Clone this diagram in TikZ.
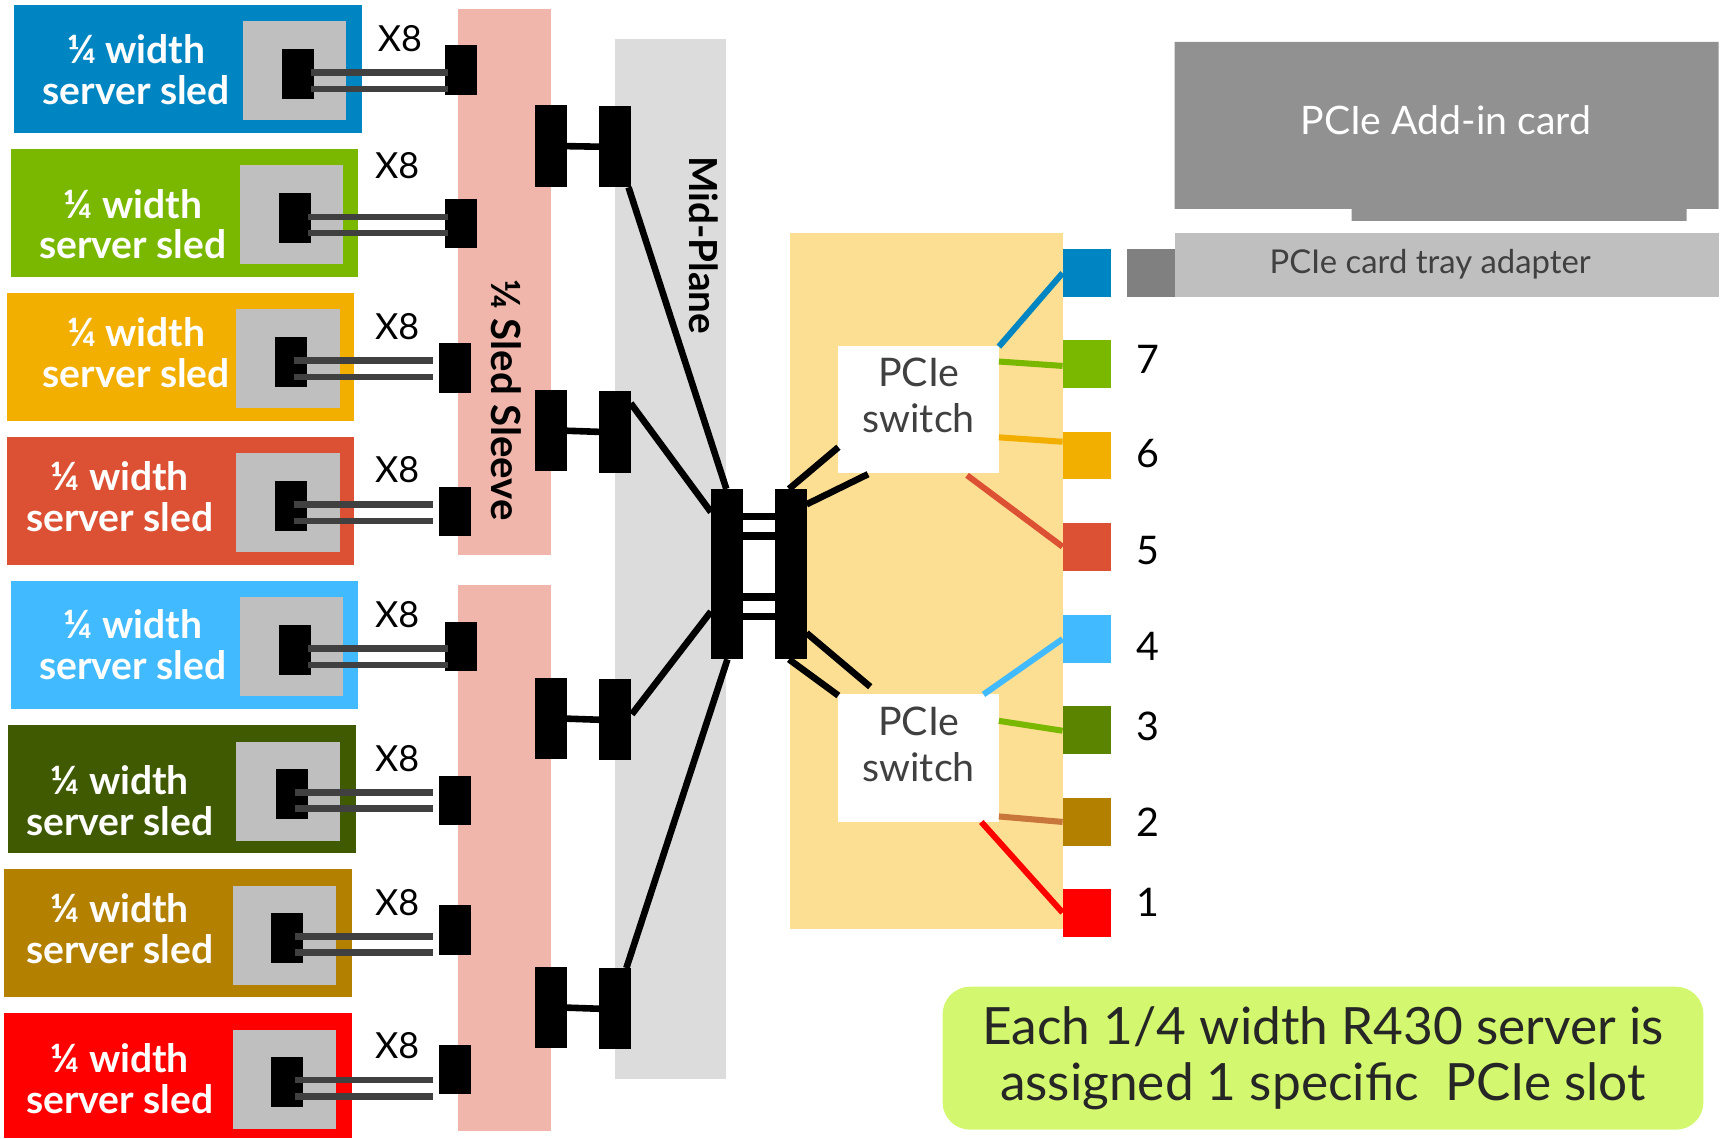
\documentclass[tikz,border=0pt]{standalone}
\usepackage{fontspec}
\setmainfont{Lato}
\definecolor{dblue}{HTML}{0085C3}
\definecolor{dgreen}{HTML}{7AB800}
\definecolor{damber}{HTML}{F2AF00}
\definecolor{dorange}{HTML}{DC5034}
\definecolor{dsky}{HTML}{42BAFF}
\definecolor{dolive}{HTML}{3F5A00}
\definecolor{dmoss}{HTML}{5B8500}
\definecolor{dbrown}{HTML}{B38000}
\definecolor{dcopper}{HTML}{C8763A}
\definecolor{dsleeve}{HTML}{F1B6AB}
\definecolor{dmid}{HTML}{DCDCDC}
\definecolor{dyellow}{HTML}{FDDF94}
\definecolor{dnote}{HTML}{D3F76E}
\definecolor{dtext}{HTML}{404040}
\tikzset{
  every node/.append style={outer sep=0pt},
  sled/.style={rectangle,inner sep=0pt,minimum width=3.16cm,minimum height=1.16cm},
  tray/.style={rectangle,inner sep=0pt,fill=black!25,minimum width=0.94cm,minimum height=0.9cm},
  plug/.style={rectangle,inner sep=0pt,fill=black,minimum width=0.29cm,minimum height=0.45cm},
  tallplug/.style={rectangle,inner sep=0pt,fill=black,minimum width=0.29cm,minimum height=0.74cm},
  port/.style={rectangle,inner sep=0pt,minimum width=0.44cm,minimum height=0.435cm},
  pswitch/.style={rectangle,inner sep=0pt,fill=white,minimum width=1.46cm,minimum height=1.16cm},
  sledtext/.style={align=center,text=white,font=\fontsize{10.1pt}{10.6pt}\selectfont\bfseries},
  xlabel/.style={font=\fontsize{9.3pt}{11pt}\selectfont,text=black},
  portnum/.style={font=\fontsize{10.2pt}{11pt}\selectfont,text=black},
  switchtext/.style={align=center,text=dtext,font=\fontsize{10.2pt}{11.9pt}\selectfont},
  cable/.style={draw=dtext,line width=0.06cm},
  lane/.style={draw=black,line width=0.06cm},
  wire/.style={line width=0.055cm}
}
\begin{document}
\begin{tikzpicture}[x=0.01cm,y=-0.01cm]
\useasboundingbox (0,0) rectangle (1568,1036);

\node[rectangle,fill=dsleeve,inner sep=0pt,minimum width=0.84cm,minimum height=4.97cm] (sleeveA) at (459,256.5) {};
\node[rectangle,fill=dsleeve,inner sep=0pt,minimum width=0.84cm,minimum height=4.97cm] (sleeveB) at (459,781) {};
\node[rectangle,fill=dmid,inner sep=0pt,minimum width=1.01cm,minimum height=9.46cm] (midplane) at (610.5,509) {};
\node[rectangle,fill=dyellow,inner sep=0pt,minimum width=2.48cm,minimum height=6.33cm] (board) at (843,528.5) {};
\node[font=\fontsize{10.4pt}{11pt}\selectfont\bfseries,rotate=-90,text=black] (sleevetext) at (461,364) {¼ Sled Sleeve};
\node[font=\fontsize{10pt}{11pt}\selectfont\bfseries,rotate=-90,text=black] (midtext) at (640,223) {Mid-Plane};

\node[sled,fill=dblue] (sled1) at (171,63) {};
\node[tray] at (268,64) {};
\node[plug] (s1) at (271.5,67.5) {};
\node[sledtext] (t1) at (124,63) {¼ width\\server sled};
\node[xlabel] (x1) at (364,35) {X8};
\node[plug] (c1) at (419.5,63.5) {};

\node[sled,fill=dgreen] (sled2) at (168,194) {};
\node[tray] at (265,195) {};
\node[plug] (s2) at (268.5,198.5) {};
\node[sledtext] (t2) at (121,204) {¼ width\\server sled};
\node[xlabel] (x2) at (361.5,151) {X8};
\node[plug] (c2) at (419.5,203.5) {};

\node[sled,fill=damber] (sled3) at (164.5,325) {};
\node[tray] at (262,326) {};
\node[plug] (s3) at (265,329.5) {};
\node[sledtext] (t3) at (124,321) {¼ width\\server sled};
\node[xlabel] (x3) at (361.5,297) {X8};
\node[plug] (c3) at (414,335) {};

\node[sled,fill=dorange] (sled4) at (164.5,456) {};
\node[tray] at (262,457) {};
\node[plug] (s4) at (265,460.5) {};
\node[sledtext] (t4) at (109,452) {¼ width\\server sled};
\node[xlabel] (x4) at (361.5,427) {X8};
\node[plug] (c4) at (414,465.5) {};

\node[sled,fill=dsky] (sled5) at (168,587) {};
\node[tray] at (265,588) {};
\node[plug] (s5) at (268.5,591.5) {};
\node[sledtext] (t5) at (121,587) {¼ width\\server sled};
\node[xlabel] (x5) at (361.5,559) {X8};
\node[plug] (c5) at (419.5,588.5) {};

\node[sled,fill=dolive] (sled6) at (165.5,718) {};
\node[tray] at (262,720) {};
\node[plug] (s6) at (265.5,722.5) {};
\node[sledtext] (t6) at (109,729) {¼ width\\server sled};
\node[xlabel] (x6) at (361.5,690) {X8};
\node[plug] (c6) at (414,728.5) {};

\node[sled,fill=dbrown] (sled7) at (162,849) {};
\node[tray] at (259,851) {};
\node[plug] (s7) at (261.5,853.5) {};
\node[sledtext] (t7) at (109,845) {¼ width\\server sled};
\node[xlabel] (x7) at (361.5,821) {X8};
\node[plug] (c7) at (414,846.5) {};

\node[sled,fill=red,minimum height=1.14cm] (sled8) at (162,979) {};
\node[tray] at (259,982) {};
\node[plug] (s8) at (261.5,984.5) {};
\node[sledtext] (t8) at (109,982) {¼ width\\server sled};
\node[xlabel] (x8) at (361.5,952) {X8};
\node[plug] (c8) at (414,973.5) {};

\draw[cable] ([shift={(-3,-1.5)}]s1.east) -- ([shift={(3,2.5)}]c1.west);
\draw[cable] ([shift={(-3,13.5)}]s1.east) -- ([shift={(3,17.5)}]c1.west);
\draw[cable] ([shift={(-3,-1)}]s2.east) -- ([shift={(3,-6)}]c2.west);
\draw[cable] ([shift={(-3,13.5)}]s2.east) -- ([shift={(3,8.5)}]c2.west);
\draw[cable] ([shift={(-12,-1.5)}]s3.east) -- ([shift={(-5,-7)}]c3.west);
\draw[cable] ([shift={(-12,13.5)}]s3.east) -- ([shift={(-5,8)}]c3.west);
\draw[cable] ([shift={(-12,-1.5)}]s4.east) -- ([shift={(-5,-6.5)}]c4.west);
\draw[cable] ([shift={(-12,13.5)}]s4.east) -- ([shift={(-5,8.5)}]c4.west);
\draw[cable] ([shift={(-3,-1.5)}]s5.east) -- ([shift={(3,1.5)}]c5.west);
\draw[cable] ([shift={(-3,13.5)}]s5.east) -- ([shift={(3,16.5)}]c5.west);
\draw[cable] ([shift={(-12,-1.5)}]s6.east) -- ([shift={(-5,-7.5)}]c6.west);
\draw[cable] ([shift={(-12,13.5)}]s6.east) -- ([shift={(-5,7.5)}]c6.west);
\draw[cable] ([shift={(-8,-1.5)}]s7.east) -- ([shift={(-5,5.5)}]c7.west);
\draw[cable] ([shift={(-8,13.5)}]s7.east) -- ([shift={(-5,20.5)}]c7.west);
\draw[cable] ([shift={(-8,-1.5)}]s8.east) -- ([shift={(-5,9.5)}]c8.west);
\draw[cable] ([shift={(-8,13.5)}]s8.east) -- ([shift={(-5,24.5)}]c8.west);

\node[tallplug] (a1) at (501.5,133) {};
\node[tallplug] (a2) at (559.5,133.5) {};
\node[tallplug] (b1) at (501.5,392) {};
\node[tallplug] (b2) at (559.5,393) {};
\node[tallplug] (c1b) at (501.5,654) {};
\node[tallplug] (c2b) at (559.5,655) {};
\node[tallplug] (d1) at (501.5,917) {};
\node[tallplug] (d2) at (559.5,918) {};
\draw[lane] (a1.east) -- (a2.west);
\draw[lane] (b1.east) -- (b2.west);
\draw[lane] (c1b.east) -- (c2b.west);
\draw[lane] (d1.east) -- (d2.west);

\node[rectangle,inner sep=0pt,fill=black,minimum width=0.29cm,minimum height=1.55cm] (m1) at (661.5,522.5) {};
\node[rectangle,inner sep=0pt,fill=black,minimum width=0.29cm,minimum height=1.55cm] (m2) at (719.5,522.5) {};
\draw[black,line width=0.07cm] ([shift={(0,-52.5)}]m1.east) -- ([shift={(0,-52.5)}]m2.west);
\draw[black,line width=0.07cm] ([shift={(0,-34.5)}]m1.east) -- ([shift={(0,-34.5)}]m2.west);
\draw[black,line width=0.07cm] ([shift={(0,20.5)}]m1.east) -- ([shift={(0,20.5)}]m2.west);
\draw[black,line width=0.07cm] ([shift={(0,38.5)}]m1.east) -- ([shift={(0,38.5)}]m2.west);
\draw[lane] ([shift={(-2,0)}]a2.south east) -- ([shift={(-15,0)}]m1.north east);
\draw[lane] ([shift={(0,-26)}]b2.east) -- ([shift={(0,-56.5)}]m1.west);
\draw[lane] ([shift={(1,-5)}]c2b.east) -- ([shift={(0,34)}]m1.west);
\draw[lane] ([shift={(-4,0)}]d2.north east) -- ([shift={(-14,0)}]m1.south east);

\node[pswitch] (sw1) at (836,372.5) {};
\node[pswitch] (sw2) at (836,690) {};
\node[switchtext] (swt1) at (836,360) {PCIe\\switch};
\node[switchtext] (swt2) at (836,677) {PCIe\\switch};
\draw[lane] ([shift={(-16,0)}]m2.north east) -- ([shift={(0,34.5)}]sw1.west);
\draw[lane] ([shift={(0,14)}]m2.north east) -- ([shift={(27,1)}]sw1.south west);
\draw[lane] ([shift={(0,-24)}]m2.south east) -- ([shift={(29,-7)}]sw2.north west);
\draw[lane] ([shift={(-16,0)}]m2.south east) -- ([shift={(0,1)}]sw2.north west);

\node[port,fill=dblue] (p8) at (989,248.5) {};
\node[port,fill=dgreen] (p7) at (989,331.5) {};
\node[port,fill=damber] (p6) at (989,414.5) {};
\node[port,fill=dorange] (p5) at (989,497.5) {};
\node[port,fill=dsky] (p4) at (989,581.5) {};
\node[port,fill=dmoss] (p3) at (989,664) {};
\node[port,fill=dbrown] (p2) at (989,748) {};
\node[port,fill=red] (p1) at (989,830.5) {};
\draw[wire,draw=dblue] ([shift={(0,1)}]sw1.north east) -- (p8.west);
\draw[wire,draw=dgreen] ([shift={(0,-43.5)}]sw1.east) -- ([shift={(0,1.5)}]p7.west);
\draw[wire,draw=damber] ([shift={(0,25.5)}]sw1.east) -- ([shift={(0,-12.5)}]p6.west);
\draw[wire,draw=dorange] ([shift={(-29,2)}]sw1.south east) -- (p5.west);
\draw[wire,draw=dsky] ([shift={(-14,0)}]sw2.north east) -- (p4.west);
\draw[wire,draw=dgreen] ([shift={(0,-34)}]sw2.east) -- ([shift={(0,1)}]p3.west);
\draw[wire,draw=dcopper] ([shift={(0,53)}]sw2.east) -- (p2.west);
\draw[wire,draw=red] ([shift={(-16,0)}]sw2.south east) -- (p1.west);

\node[portnum] (n7) at (1044.5,327) {7};
\node[portnum] (n6) at (1044.5,413) {6};
\node[portnum] (n5) at (1044.5,501) {5};
\node[portnum] (n4) at (1044.5,588) {4};
\node[portnum] (n3) at (1044.5,661) {3};
\node[portnum] (n2) at (1044.5,748) {2};
\node[portnum] (n1) at (1044.5,821) {1};

\node[rectangle,inner sep=0pt,fill=black!50,minimum width=0.43cm,minimum height=0.43cm] (slot) at (1047.5,248.5) {};
\node[rectangle,inner sep=0pt,fill=black!25,minimum width=4.95cm,minimum height=0.58cm] (adapter) at (1316.5,241) {};
\node[text=dtext,font=\fontsize{8.5pt}{10pt}\selectfont] (adaptertext) at (1301.5,240) {PCIe card tray adapter};
\fill[black!43] (1069,38) -- (1564,38) -- (1564,190) -- (1535,190) -- (1535,201) -- (1230,201) -- (1230,190) -- (1069,190) -- cycle;
\node[text=white,font=\fontsize{10.15pt}{11pt}\selectfont] (cardtext) at (1316,109) {PCIe Add-in card};

\node[rectangle,rounded corners=0.25cm,fill=dnote,inner sep=0pt,minimum width=6.92cm,minimum height=1.3cm,align=center,text=black!85,font=\fontsize{13.3pt}{14.3pt}\selectfont] (note) at (1204,963) {Each 1/4 width R430 server is\\assigned 1 specific\ \ PCIe slot};
\end{tikzpicture}
\end{document}
